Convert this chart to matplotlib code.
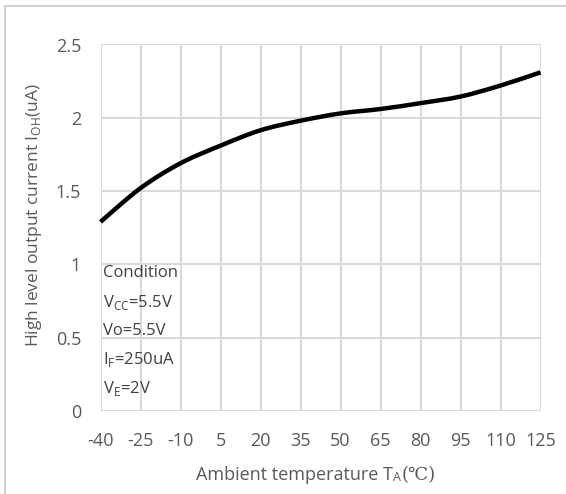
import numpy as np
import matplotlib
matplotlib.use('Agg')
import matplotlib.pyplot as plt
from matplotlib.path import Path
from matplotlib.patches import PathPatch, Rectangle

# ---------------------------------------------------------------------------
temp_c   = [-40, -25, -10, 5, 20, 35, 50, 65, 80, 95, 110, 125]
i_oh_ua  = [1.29, 1.52, 1.69, 1.81, 1.915, 1.98, 2.03, 2.06, 2.10, 2.145, 2.22, 2.31]
y_ticks  = [0, 0.5, 1, 1.5, 2, 2.5]
y_labels = ['0', '0.5', '1', '1.5', '2', '2.5']
cond_lines = ['Condition',
              r'V$_{\mathregular{CC}}$=5.5V',
              'Vo=5.5V',
              r'I$_{\mathregular{F}}$=250uA',
              r'V$_{\mathregular{E}}$=2V']

FONT  = ['Open Sans', 'Noto Sans CJK SC', 'DejaVu Sans']
GRAY  = '#595959'
GRID  = '#d9d9d9'

plt.rcParams['font.family'] = FONT
plt.rcParams['mathtext.fontset'] = 'custom'
plt.rcParams['mathtext.rm'] = 'Open Sans'


def smooth_path(x, y, t=1/6):
    """Catmull-Rom style cubic bezier through the points (like a spreadsheet smoothed line)."""
    x = np.asarray(x, float); y = np.asarray(y, float)
    verts = [(x[0], y[0])]
    codes = [Path.MOVETO]
    n = len(x)
    for i in range(n - 1):
        x0, y0 = (x[i - 1], y[i - 1]) if i > 0 else (x[i], y[i])
        x3, y3 = (x[i + 2], y[i + 2]) if i + 2 < n else (x[i + 1], y[i + 1])
        c1 = (x[i] + (x[i + 1] - x0) * t, y[i] + (y[i + 1] - y0) * t)
        c2 = (x[i + 1] - (x3 - x[i]) * t, y[i + 1] - (y3 - y[i]) * t)
        verts += [c1, c2, (x[i + 1], y[i + 1])]
        codes += [Path.CURVE4] * 3
    return Path(verts, codes)


fig = plt.figure(figsize=(5.66, 4.94), dpi=100)
ax = fig.add_axes([100.5 / 566, 1 - 411 / 494, 440 / 566, 366.5 / 494])

# light outer frame
fig.patches.append(Rectangle((5 / 566, -0.1), 1.2, 1 - 6 / 494 + 0.1,
                             transform=fig.transFigure, fill=False,
                             edgecolor='#d0d0d0', lw=1.5))

ax.add_patch(PathPatch(smooth_path(temp_c, i_oh_ua), fill=False,
                       edgecolor='black', lw=3.2, capstyle='butt', zorder=3,
                       clip_on=False))

ax.set_xlim(-40, 125)
ax.set_ylim(0, 2.5)
ax.set_xticks(temp_c)
ax.set_xticklabels([str(t) for t in temp_c])
ax.set_yticks(y_ticks)
ax.set_yticklabels(y_labels)
ax.grid(True, color=GRID, lw=1.5)
ax.set_axisbelow(True)
for s in ax.spines.values():
    s.set_visible(False)
ax.tick_params(length=0, labelsize=13, colors=GRAY, pad=15)
ax.tick_params(axis='y', pad=14)

# x label built from pieces so the ℃ sign can fall back to a font that has it
t1 = fig.text(196 / 566, 1 - 480 / 494, 'Ambient temperature T', fontsize=13,
              color=GRAY, ha='left', va='baseline')
t2 = ax.annotate('A', xy=(1, 0), xycoords=t1, xytext=(0.3, 0),
                 textcoords='offset points', fontsize=9, color=GRAY,
                 ha='left', va='bottom')
ax.annotate('(℃)', xy=(1, 0), xycoords=(t2, t1), xytext=(0.5, 0),
            textcoords='offset points', fontsize=13, color=GRAY,
            ha='left', va='bottom', family=['DejaVu Serif', 'DejaVu Sans'])

ax.set_ylabel(r'High level output current I$_{\mathregular{OH}}$(uA)', fontsize=12.5,
              color=GRAY)
ax.yaxis.set_label_coords(-0.128, 0.535)

for k, line in enumerate(cond_lines):
    ax.text(-39, 0.94 - k * 0.197, line, fontsize=12, color='#404040',
            ha='left', va='center')

fig.savefig('out.png', dpi=100)
